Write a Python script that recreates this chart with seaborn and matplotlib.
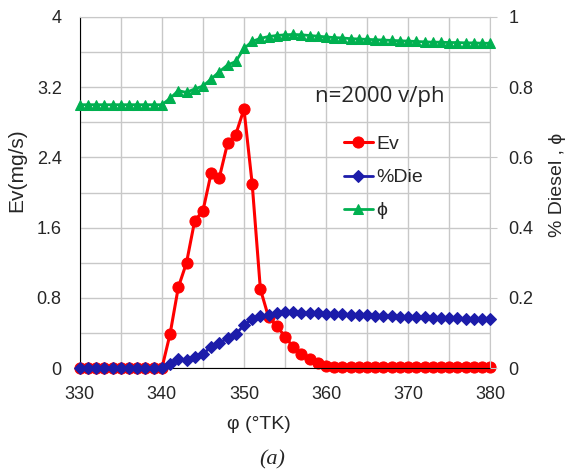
import numpy as np
import pandas as pd
import seaborn as sns
import matplotlib.pyplot as plt
from matplotlib.ticker import MultipleLocator

# crank angle, one point per degree
phi_deg = list(range(330, 381))

# evaporation rate Ev (mg/s)
ev = [0.0] * 11 + [0.39, 0.92, 1.20, 1.68, 1.79, 2.22, 2.17, 2.56, 2.66, 2.95,
                   2.10, 0.90, 0.58, 0.48, 0.36, 0.24, 0.16, 0.10, 0.06, 0.03,
                   0.015, 0.01, 0.01, 0.01, 0.01, 0.01, 0.01, 0.01, 0.01, 0.01,
                   0.01, 0.01, 0.01, 0.01, 0.01, 0.01, 0.01, 0.01, 0.01, 0.01]

# fraction of diesel
die = [0.0] * 11 + [0.012, 0.025, 0.022, 0.033, 0.040, 0.061, 0.072, 0.085, 0.097, 0.122,
                    0.140, 0.148, 0.152, 0.156, 0.159, 0.159, 0.158, 0.157, 0.156, 0.155,
                    0.154, 0.153, 0.152, 0.151, 0.150, 0.149, 0.149, 0.148, 0.147, 0.146,
                    0.146, 0.145, 0.144, 0.143, 0.143, 0.142, 0.141, 0.141, 0.140, 0.140]

# equivalence ratio
eq = [0.75] * 11 + [0.768, 0.790, 0.785, 0.795, 0.803, 0.823, 0.844, 0.863, 0.873, 0.910,
                    0.930, 0.939, 0.944, 0.947, 0.949, 0.950, 0.949, 0.947, 0.945, 0.943,
                    0.941, 0.940, 0.938, 0.937, 0.936, 0.935, 0.934, 0.933, 0.932, 0.931,
                    0.930, 0.929, 0.928, 0.928, 0.927, 0.927, 0.926, 0.926, 0.925, 0.925]

left_ticks = [0, 0.8, 1.6, 2.4, 3.2, 4]
left_labels = ["0", "0.8", "1.6", "2.4", "3.2", "4"]
right_ticks = [0, 0.2, 0.4, 0.6, 0.8, 1]
right_labels = ["0", "0.2", "0.4", "0.6", "0.8", "1"]

df = pd.DataFrame({"phi": phi_deg, "Ev": ev, "Die": die, "eq": eq})

sns.set_style("white")
plt.rcParams["font.family"] = ["Liberation Sans", "DejaVu Sans"]

fig, ax = plt.subplots(figsize=(5.7, 4.69), dpi=100)
fig.subplots_adjust(left=0.14, right=0.86, top=0.964, bottom=0.215)
ax2 = ax.twinx()

sns.lineplot(data=df, x="phi", y="Ev", ax=ax, color="#ff0000", marker="o",
             markersize=8, markeredgecolor="#ff0000", linewidth=2.2, clip_on=False,
             label="Ev", legend=False)
sns.lineplot(data=df, x="phi", y="Die", ax=ax2, color="#1c1caa", marker="D",
             markersize=6.2, markeredgecolor="#1c1caa", linewidth=2, clip_on=False,
             label="%Die", legend=False)
sns.lineplot(data=df, x="phi", y="eq", ax=ax2, color="#00b050", marker="^",
             markersize=7.5, markeredgecolor="#00b050", linewidth=2, clip_on=False,
             label="ϕ", legend=False)

ax.set_xlim(330, 380)
ax.set_ylim(0, 4)
ax2.set_ylim(0, 1)
ax.xaxis.set_major_locator(MultipleLocator(10))
ax.xaxis.set_minor_locator(MultipleLocator(5))
ax.set_yticks(left_ticks)
ax.set_yticklabels(left_labels)
ax.yaxis.set_minor_locator(MultipleLocator(0.4))
ax2.set_yticks(right_ticks)
ax2.set_yticklabels(right_labels)

ax.grid(True, which="both", color="#c8c8c8", linewidth=1)
ax.set_axisbelow(True)
ax.tick_params(axis="x", which="both", length=0, labelsize=13, pad=13)
ax.tick_params(axis="y", which="both", length=0, labelsize=13, pad=13)
ax2.tick_params(axis="y", length=5, color="#c8c8c8", labelsize=13, pad=8)

for s in ["top", "right"]:
    ax.spines[s].set_color("#c8c8c8")
ax.spines["left"].set_color("black")
ax.spines["bottom"].set_color("black")
for s in ax2.spines.values():
    s.set_visible(False)

ax.set_xlabel("φ (°TK)", fontsize=14)
ax.xaxis.set_label_coords(0.437, -0.137)
ax.set_ylabel("Ev(mg/s)", fontsize=15)
ax.yaxis.set_label_coords(-0.154, 0.564)
ax2.set_ylabel("% Diesel , ϕ", fontsize=14)
ax2.yaxis.set_label_coords(1.163, 0.521)
ax2.yaxis.label.set_va("center")
ax.yaxis.label.set_va("center")

ax.text(366.6, 3.09, "n=2000 v/ph", fontsize=16, ha="center", va="center",
        family=["Open Sans", "DejaVu Sans"])

handles = ax.get_lines()[:1] + ax2.get_lines()[:2]
ax.legend(handles, ["Ev", "%Die", "ϕ"], loc="upper left",
          bbox_to_anchor=(0.6, 0.712), frameon=False, fontsize=14,
          handlelength=1.5, handletextpad=0.2, labelspacing=0.8)

fig.text(0.477, 0.019, "(a)", fontsize=16, style="italic", ha="center", va="center",
         family=["Liberation Serif", "DejaVu Serif"])

fig.savefig("out.png", dpi=100)
